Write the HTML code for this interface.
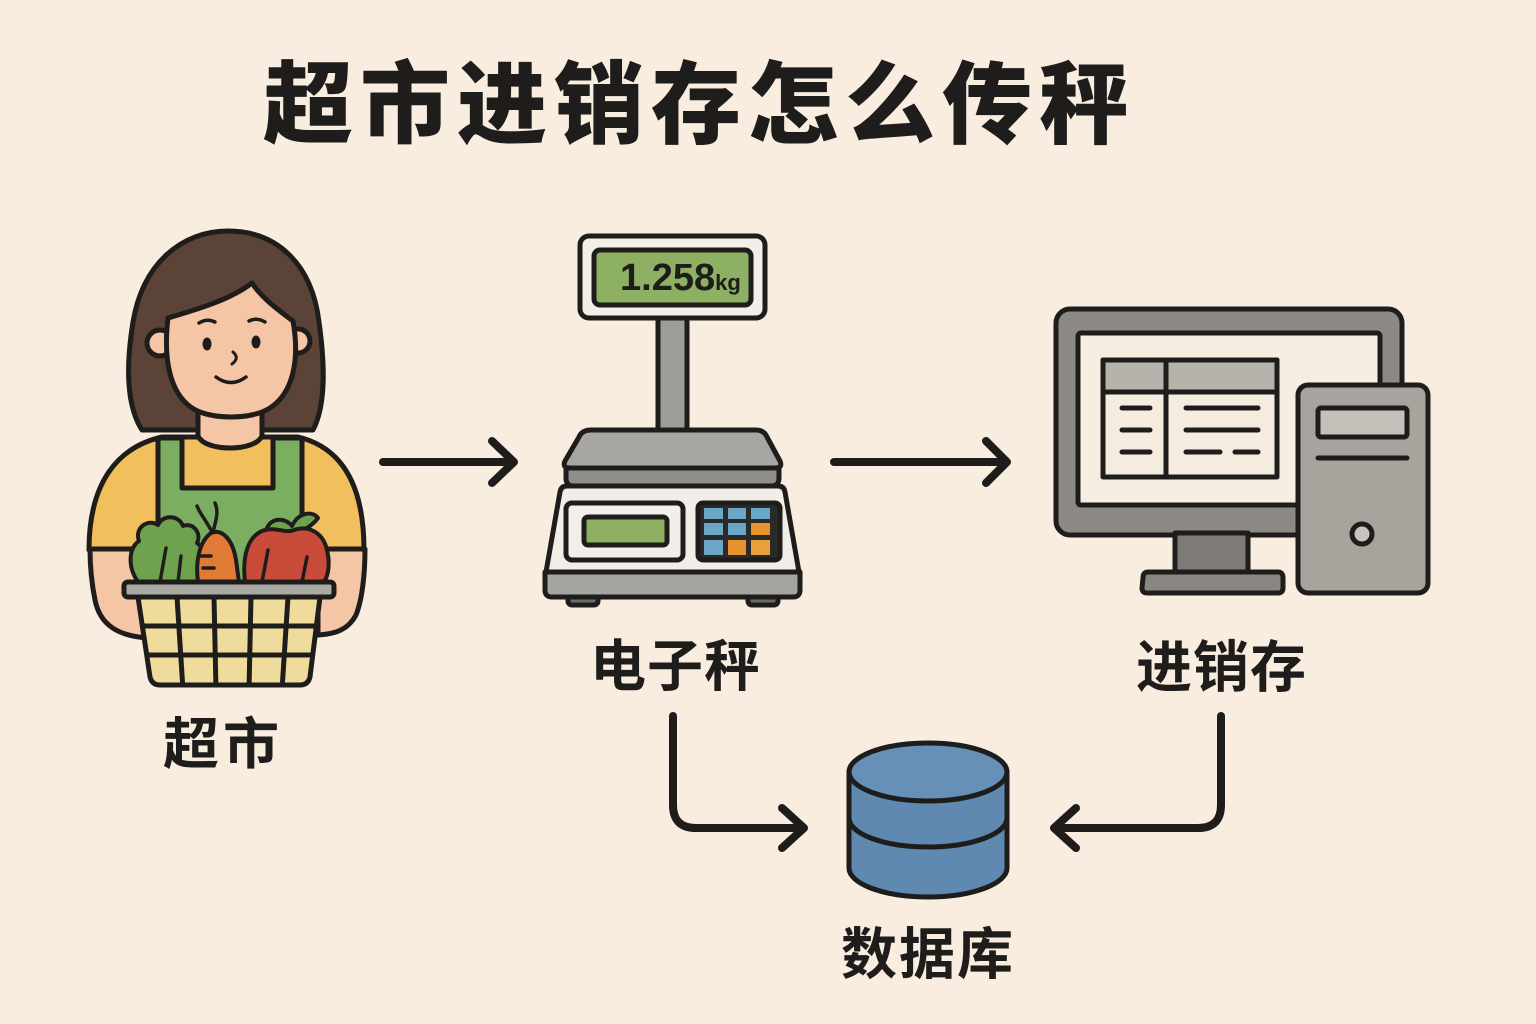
<!DOCTYPE html>
<html>
<head>
<meta charset="utf-8">
<style>
  html,body{margin:0;padding:0;background:#f9ede0;}
  svg{display:block;}
  .t{font-family:"Liberation Sans","Noto Sans CJK SC","WenQuanYi Zen Hei",sans-serif;fill:#1f1d1b;font-weight:700;}
</style>
</head>
<body>
<svg width="1536" height="1024" viewBox="0 0 1536 1024" xmlns="http://www.w3.org/2000/svg">
  <rect x="0" y="0" width="1536" height="1024" fill="#f9ede0"/>

  <!-- Title -->
  <text class="t" x="263" y="136" font-size="90" textLength="866" lengthAdjust="spacing" style="font-weight:900">超市进销存怎么传秤</text>

  <!-- ============ Woman ============ -->
  <g stroke="#1f1d1b" stroke-width="5" stroke-linejoin="round" stroke-linecap="round">
    <!-- hair -->
    <path d="M142,430 C126,405 126,365 133,322 C143,262 183,231 228,231 C277,231 312,264 319,322 C325,365 326,405 313,430 Z" fill="#5b4337"/>
    <!-- shirt body -->
    <path d="M89,550 C89,482 118,447 162,437 L298,437 C340,447 364,482 364,550 Z" fill="#f1bf5c"/>
    <!-- apron -->
    <path d="M158,438 L182,438 L182,488 L273,488 L273,438 L302,438 L302,592 L158,592 Z" fill="#7cae61"/>
    <!-- neck -->
    <path d="M198,398 L198,436 C205,452 255,452 262,436 L262,398 Z" fill="#f5c6a5"/>
    <!-- arms -->
    <path d="M90,549 L148,549 L148,638 C118,636 100,625 95,600 C91,580 90,565 90,549 Z" fill="#f5c6a5"/>
    <path d="M318,549 L365,549 C365,575 362,600 356,615 C348,630 335,634 318,635 Z" fill="#f5c6a5"/>
    <!-- ears -->
    <circle cx="160" cy="343" r="13" fill="#f5c6a5"/>
    <circle cx="298" cy="341" r="12" fill="#f5c6a5"/>
    <!-- face -->
    <path d="M168,318 C195,310 230,300 252,283 C262,298 278,310 293,321 C300,360 293,393 270,408 C252,420 210,420 192,408 C170,393 163,360 168,318 Z" fill="#f5c6a5"/>
  </g>
  <!-- face features -->
  <g stroke="#1f1d1b" stroke-linecap="round" fill="none">
    <path d="M199,323 Q207,318 215,322" stroke-width="3.5"/>
    <path d="M249,321 Q257,317 265,322" stroke-width="3.5"/>
    <path d="M233,352 Q240,358 232,364" stroke-width="3"/>
    <path d="M216,377 Q231,388 246,377" stroke-width="3.5"/>
  </g>
  <ellipse cx="207" cy="344" rx="4.5" ry="6.5" fill="#1f1d1b"/>
  <ellipse cx="256" cy="342" rx="4.5" ry="6.5" fill="#1f1d1b"/>

  <!-- vegetables -->
  <g stroke="#1f1d1b" stroke-width="4" stroke-linejoin="round" stroke-linecap="round">
    <!-- lettuce -->
    <path d="M138,582 C127,566 129,548 139,541 C134,528 148,518 158,525 C163,514 179,515 183,526 C193,522 202,533 197,543 C207,550 206,567 201,582 Z" fill="#6ea24f"/>
    <path d="M160,582 L166,548 M178,582 L181,556" fill="none" stroke-width="3.5"/>
    <!-- carrot leaves -->
    <path d="M212,532 C206,520 200,514 197,506 M213,532 C216,520 219,512 215,503" fill="none" stroke-width="3.5"/>
    <!-- carrot -->
    <path d="M198,582 C195,560 200,541 211,533 C223,528 233,541 236,560 L239,582 Z" fill="#e07b36"/>
    <path d="M200,556 L211,556 M203,568 L214,568" fill="none" stroke-width="3.5"/>
    <!-- pepper leaves -->
    <path d="M266,532 C268,518 284,516 292,526 C298,513 312,510 318,518 C312,526 302,532 292,534 Z" fill="#6ea24f"/>
    <!-- pepper -->
    <path d="M245,582 C242,556 248,537 262,531 C276,526 285,534 294,530 C308,525 323,532 327,550 C331,566 327,582 322,582 Z" fill="#c94b3a"/>
    <path d="M262,582 L268,550 M302,582 L307,557" fill="none" stroke-width="3.5"/>
  </g>

  <!-- basket -->
  <defs>
    <clipPath id="bk"><path d="M138,597 L320,597 L310,677 Q308,685 300,685 L160,685 Q152,685 150,677 Z"/></clipPath>
  </defs>
  <path d="M138,597 L320,597 L310,677 Q308,685 300,685 L160,685 Q152,685 150,677 Z" fill="#efdb9c"/>
  <g clip-path="url(#bk)" stroke="#1f1d1b" stroke-width="5">
    <path d="M130,626 L330,626 M130,655 L330,655"/>
    <path d="M177,597 L183,690 M214,597 L216,690 M251,597 L249,690 M288,597 L282,690"/>
  </g>
  <path d="M138,597 L320,597 L310,677 Q308,685 300,685 L160,685 Q152,685 150,677 Z" fill="none" stroke="#1f1d1b" stroke-width="5" stroke-linejoin="round"/>
  <rect x="124" y="582" width="210" height="15" rx="4" fill="#a9aaa4" stroke="#1f1d1b" stroke-width="5"/>

  <!-- ============ Scale ============ -->
  <g stroke="#1f1d1b" stroke-width="5" stroke-linejoin="round" stroke-linecap="round">
    <rect x="658" y="314" width="29" height="118" fill="#9e9d99"/>
    <rect x="580" y="236" width="185" height="82" rx="9" fill="#f2efe8"/>
    <rect x="594" y="250" width="157" height="55" rx="6" fill="#8db063"/>
    <!-- platter -->
    <path d="M566,468 L779,468 L779,478 Q779,486 771,486 L574,486 Q566,486 566,478 Z" fill="#8f8d89"/>
    <path d="M591,430 L756,430 Q764,430 767,437 L780,461 Q783,468 775,468 L570,468 Q562,468 565,461 L579,437 Q582,430 591,430 Z" fill="#a8a6a2"/>
    <!-- base -->
    <rect x="568" y="592" width="30" height="13" rx="4" fill="#6e6c68"/>
    <rect x="748" y="592" width="30" height="13" rx="4" fill="#6e6c68"/>
    <path d="M545,572 L800,572 L800,590 Q800,597 793,597 L552,597 Q545,597 545,590 Z" fill="#a6a4a0"/>
    <path d="M567,486 L778,486 Q784,486 785,492 L799,572 L546,572 L560,492 Q561,486 567,486 Z" fill="#f1eee7"/>
    <rect x="566" y="503" width="117" height="57" rx="6" fill="#f2efe8"/>
    <rect x="584" y="517" width="83" height="28" rx="4" fill="#8db063"/>
    <rect x="698" y="503" width="82" height="57" rx="5" fill="#2a2a28"/>
  </g>
  <text x="620" y="290" font-family="Liberation Sans, sans-serif" font-weight="700" font-size="38" fill="#1f1d1b">1.258<tspan font-size="22">kg</tspan></text>
  <!-- keys -->
  <g>
    <rect x="704" y="508" width="19" height="11" fill="#6aa6c8"/>
    <rect x="728" y="508" width="18" height="11" fill="#6aa6c8"/>
    <rect x="751" y="508" width="19" height="11" fill="#6aa6c8"/>
    <rect x="704" y="523" width="19" height="12" fill="#6aa6c8"/>
    <rect x="728" y="523" width="18" height="12" fill="#6aa6c8"/>
    <rect x="751" y="523" width="19" height="12" fill="#e8922e"/>
    <rect x="704" y="540" width="19" height="15" fill="#6aa6c8"/>
    <rect x="728" y="540" width="18" height="15" fill="#e8922e"/>
    <rect x="751" y="540" width="19" height="15" fill="#e9a23a"/>
  </g>

  <!-- ============ Computer ============ -->
  <g stroke="#1f1d1b" stroke-width="5" stroke-linejoin="round" stroke-linecap="round">
    <rect x="1056" y="309" width="346" height="226" rx="14" fill="#8d8984"/>
    <rect x="1078" y="333" width="302" height="172" rx="3" fill="#f7eee2"/>
    <rect x="1175" y="533" width="73" height="40" fill="#7e7a75"/>
    <path d="M1148,572 L1278,572 Q1283,572 1283,578 L1283,588 Q1283,593 1278,593 L1147,593 Q1142,593 1142,588 L1143,578 Q1143,572 1148,572 Z" fill="#8a8681"/>
    <!-- table -->
    <rect x="1103" y="360" width="174" height="117" fill="#f5ece0"/>
    <rect x="1103" y="360" width="174" height="32" fill="#b5b1ab"/>
    <path d="M1166,360 L1166,477" fill="none"/>
    <path d="M1122,408 L1150,408 M1122,430 L1150,430 M1122,452 L1150,452 M1186,408 L1258,408 M1186,430 L1258,430 M1186,452 L1220,452 M1235,452 L1258,452" fill="none"/>
    <!-- tower -->
    <rect x="1298" y="385" width="130" height="208" rx="10" fill="#a7a39d"/>
    <rect x="1318" y="408" width="89" height="29" rx="3" fill="#c4c0ba"/>
    <path d="M1318,458 L1407,458" fill="none"/>
    <circle cx="1362" cy="534" r="10" fill="#c8c4be"/>
  </g>

  <!-- ============ Database ============ -->
  <g stroke="#1f1d1b" stroke-width="5" stroke-linejoin="round">
    <path d="M849,772 L849,868 A79,29 0 0 0 1007,868 L1007,772 Z" fill="#5f89b0"/>
    <path d="M849,818 A79,29 0 0 0 1007,818" fill="none"/>
    <ellipse cx="928" cy="772" rx="79" ry="29" fill="#6690b7"/>
  </g>

  <!-- ============ Arrows ============ -->
  <g stroke="#1f1d1b" stroke-width="8" stroke-linecap="round" stroke-linejoin="round" fill="none">
    <path d="M383,462 L512,462"/>
    <path d="M492,441 L514,462 L492,483"/>
    <path d="M834,462 L1005,462"/>
    <path d="M986,441 L1007,462 L986,483"/>
    <path d="M673,716 L673,805 Q673,828 696,828 L802,828"/>
    <path d="M782,808 L804,828 L782,848"/>
    <path d="M1221,716 L1221,805 Q1221,828 1198,828 L1056,828"/>
    <path d="M1076,808 L1054,828 L1076,848"/>
  </g>

  <!-- Labels -->
  <text class="t" x="163" y="764" font-size="56" style="letter-spacing:4px">超市</text>
  <text class="t" x="590" y="686" font-size="56" style="letter-spacing:1px">电子秤</text>
  <text class="t" x="1136" y="687" font-size="56" style="letter-spacing:1px">进销存</text>
  <text class="t" x="841" y="974" font-size="56" style="letter-spacing:2px">数据库</text>
</svg>
</body>
</html>
